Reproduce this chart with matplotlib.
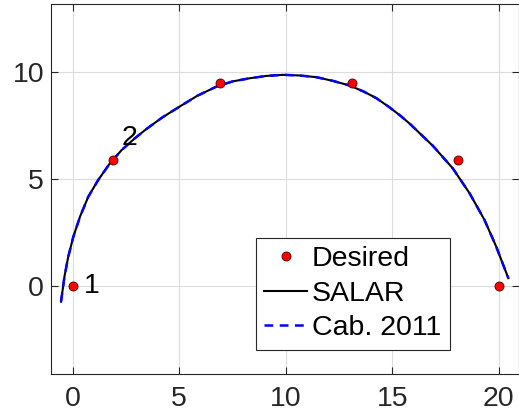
import numpy as np
import matplotlib.pyplot as plt

plt.rcParams['font.family'] = ['Liberation Sans', 'DejaVu Sans']

# desired points
des_x = [0, 1.9, 6.9, 13.1, 18.1, 20]
des_y = [0, 5.9, 9.5, 9.5, 5.9, 0]

# trajectory (both methods overlap)
trj_x = [-0.55, -0.39, -0.21, 0.03, 0.34, 0.73, 1.20, 1.75, 2.30, 2.92, 3.47, 4.2,
         5.03, 5.85, 6.75, 7.5, 8.31, 9.1, 9.87, 10.65, 11.44, 12.2, 13.0, 13.65,
         14.25, 14.88, 15.4, 15.81, 16.91, 17.84, 18.63, 19.33, 19.88, 20.45]
trj_y = [-0.75, 0.42, 1.36, 2.30, 3.23, 4.17, 4.96, 5.74, 6.36, 6.91, 7.35, 7.88,
         8.40, 8.90, 9.33, 9.57, 9.72, 9.83, 9.88, 9.85, 9.77, 9.60, 9.38, 9.10,
         8.79, 8.35, 7.95, 7.60, 6.55, 5.50, 4.33, 3.08, 1.83, 0.35]

labels = ['1', '2']
lab_x = [0.5, 2.3]
lab_y = [0, 6.9]

fig = plt.figure(figsize=(5.19, 4.2), dpi=100)
ax = fig.add_axes([0.0983, 0.1095, 0.9017, 0.881])

ax.plot(des_x, des_y, 'o', color='red', markeredgecolor='#400000', markeredgewidth=0.6,
        markersize=6.5, label='Desired', zorder=4)
ax.plot(trj_x, trj_y, '-', color='black', linewidth=1.5, label='SALAR', zorder=2)
ax.plot(trj_x, trj_y, '--', color='blue', linewidth=1.8, dashes=(3.5, 2.6), label='Cab. 2011', zorder=3)

for t, x, y in zip(labels, lab_x, lab_y):
    ax.text(x, y, t, fontsize=20.5, va='center', ha='left', color='black')

ax.set_xlim(-1.02, 20.95)
ax.set_ylim(-4.14, 13.2)
ax.set_xticks([0, 5, 10, 15, 20])
ax.set_yticks([0, 5, 10])
ax.grid(True, color='#dcdcdc', linewidth=0.8)
ax.set_axisbelow(True)
ax.tick_params(direction='in', top=True, right=True, labelsize=20.5, colors='#262626', length=5)
ax.tick_params(axis='x', pad=8.5)
ax.tick_params(axis='y', pad=5)
for s in ax.spines.values():
    s.set_color('#262626')
    s.set_linewidth(0.8)

leg = ax.legend(loc='lower right', bbox_to_anchor=(0.852, 0.065), borderaxespad=0,
                fontsize=20.5, fancybox=False, edgecolor='#262626', framealpha=1,
                handlelength=1.5, handletextpad=0.17, labelspacing=0.3, borderpad=0.3)
leg.get_frame().set_linewidth(0.8)

fig.savefig('out.png', dpi=100)
